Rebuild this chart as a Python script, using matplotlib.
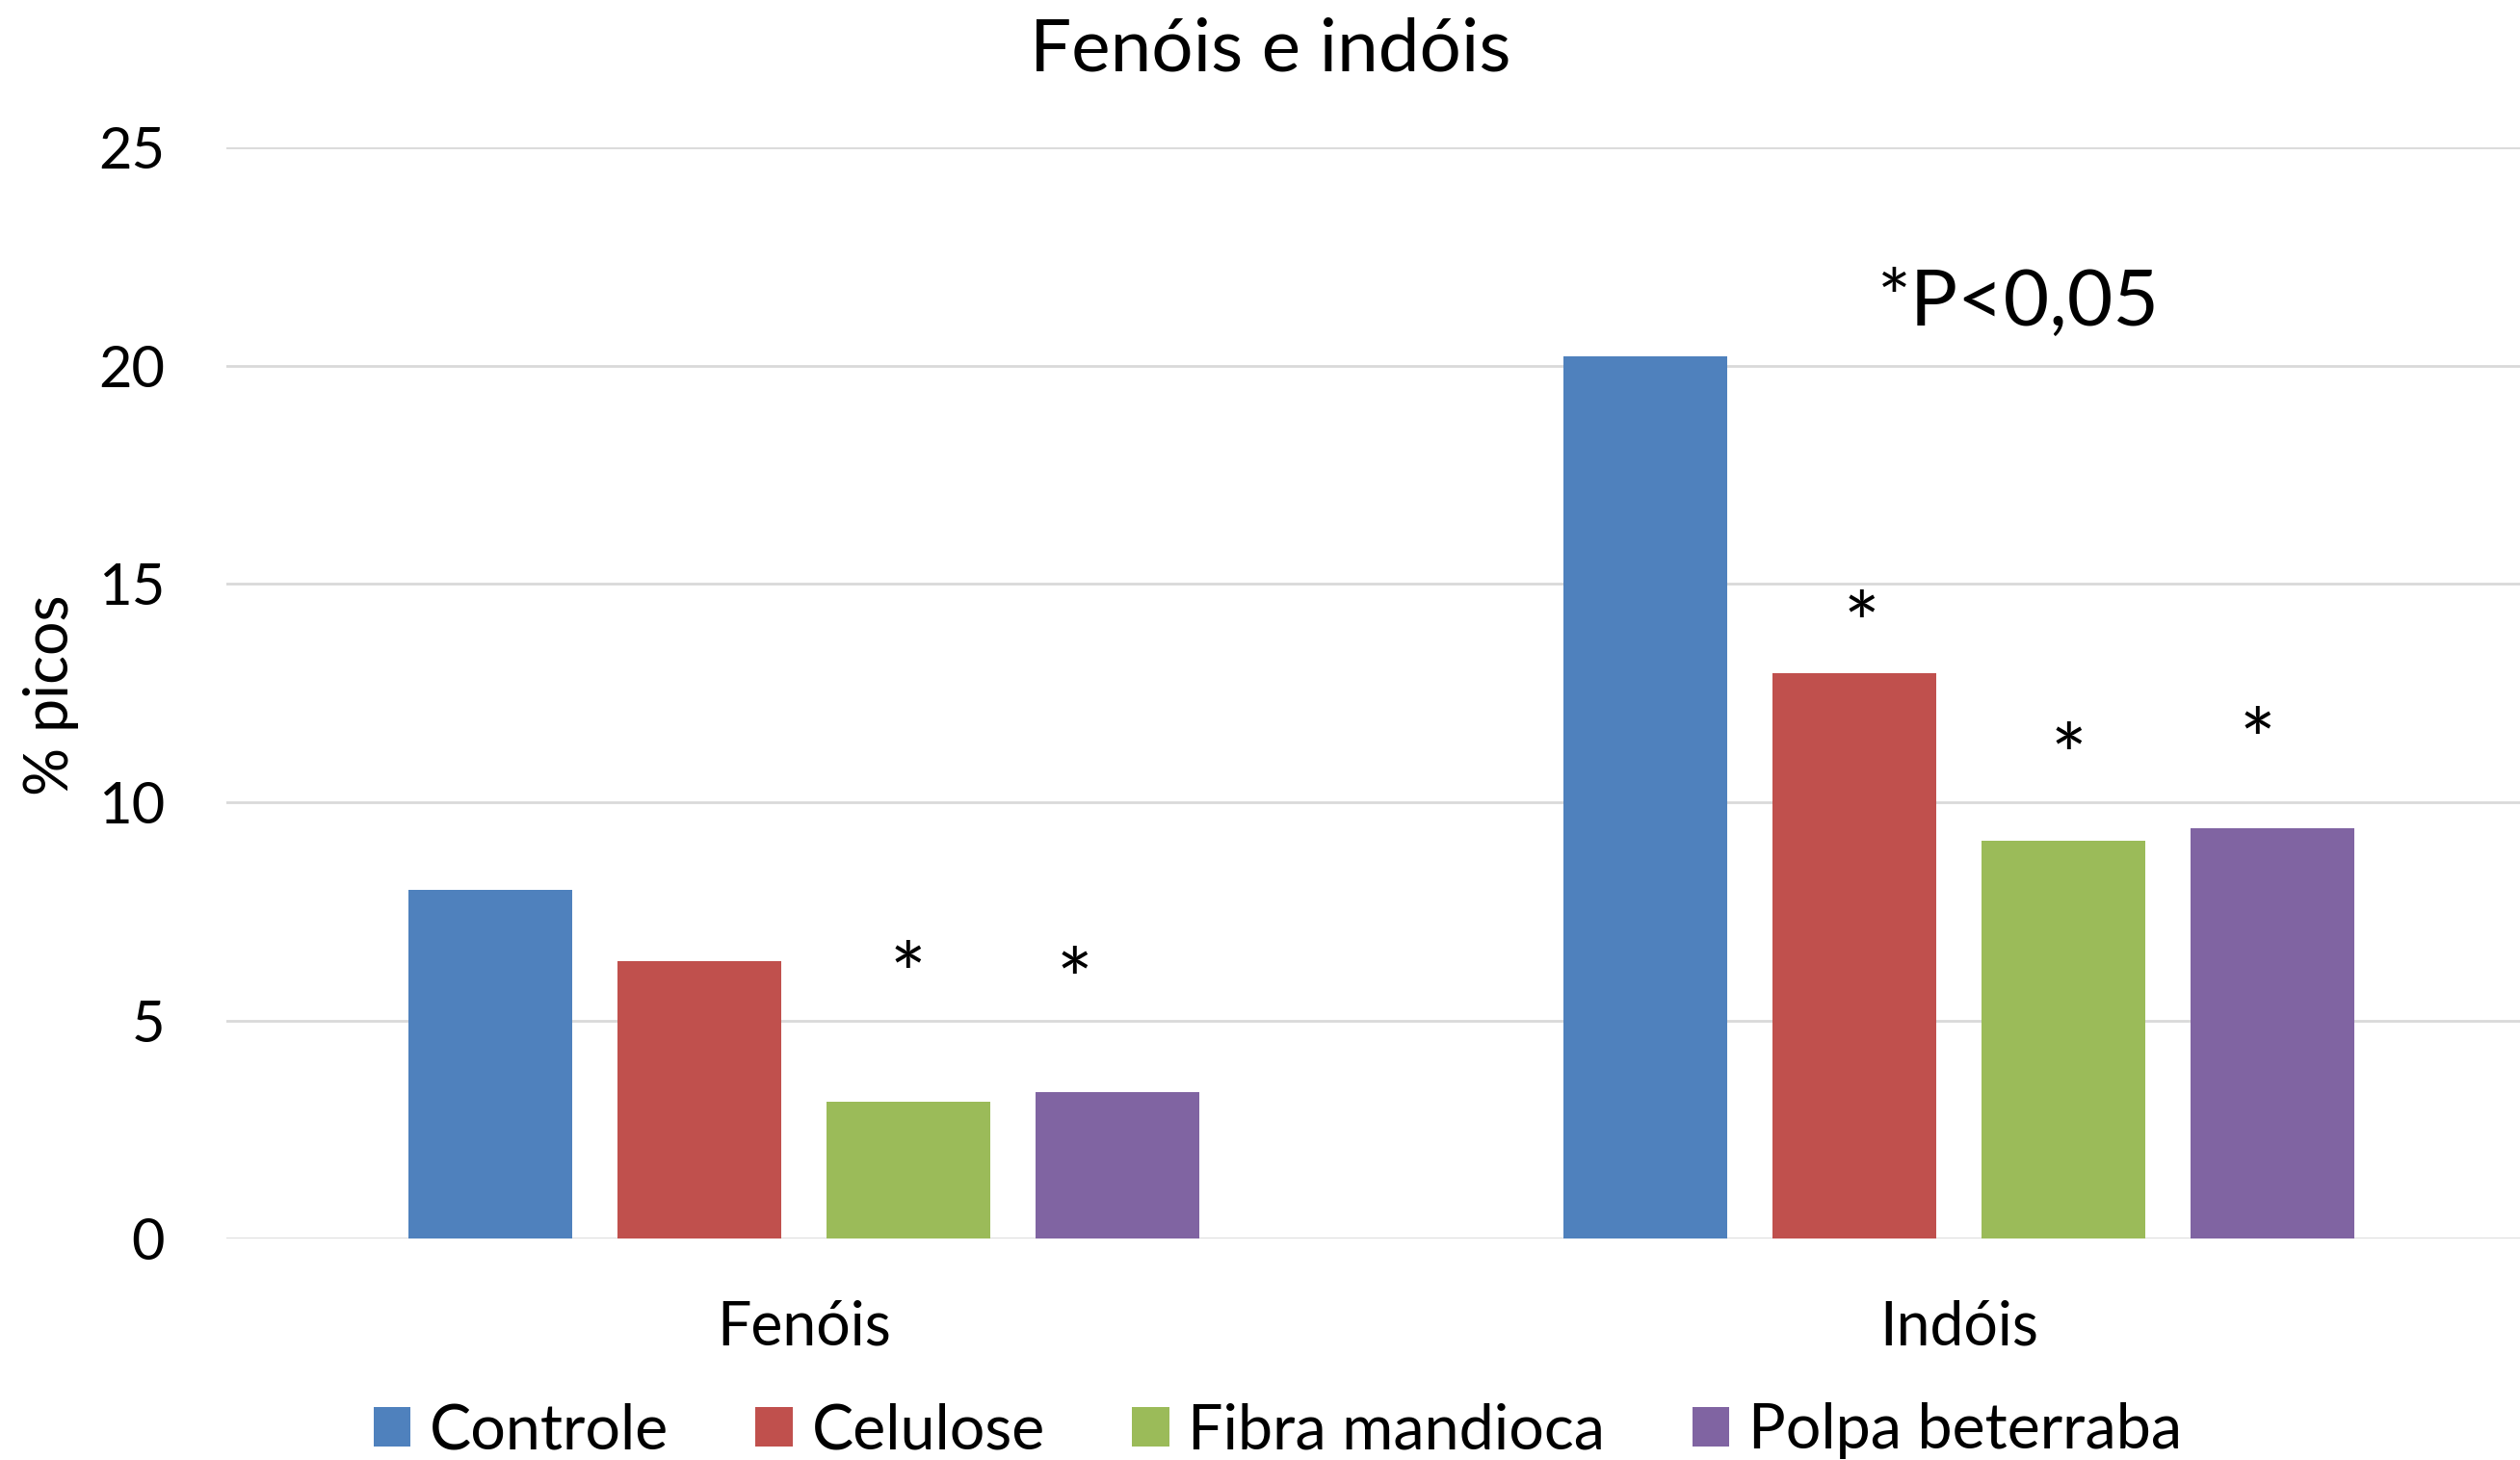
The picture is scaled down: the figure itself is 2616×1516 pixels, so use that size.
import numpy as np
import matplotlib.pyplot as plt

# data
groups = ['Fenóis', 'Indóis']
series = ['Controle', 'Celulose', 'Fibra mandioca', 'Polpa beterraba']
values = {
    'Controle': [7.98, 20.22],
    'Celulose': [6.35, 12.95],
    'Fibra mandioca': [3.13, 9.12],
    'Polpa beterraba': [3.36, 9.41],
}
colors = ['#4F81BD', '#C0504D', '#9BBB59', '#8064A2']

# significance stars: (group index, series index, height of star centre)
stars_group = [0, 0, 1, 1, 1]
stars_series = [2, 3, 1, 2, 3]
stars_y = [6.49, 6.36, 14.52, 11.50, 11.85]
yticks = [0, 5, 10, 15, 20, 25]


def main():
    plt.rcParams['font.family'] = ['Lato', 'DejaVu Sans']
    fig = plt.figure(figsize=(26.16, 15.16), dpi=100)
    ax = fig.add_axes([0.0898, 0.1517, 0.9102, 0.7471])

    x = np.arange(len(groups))
    width = 0.142
    step = 0.181
    offsets = (np.arange(len(series)) - 1.5) * step

    for i, s in enumerate(series):
        ax.bar(x + offsets[i], values[s], width, color=colors[i], label=s, zorder=3)

    # stars, baseline shifted so glyph centre sits at the value
    star_dx = {(0, 3): -0.037, (1, 1): 0.006, (1, 2): 0.005, (1, 3): -0.013}
    for g, s, yv in zip(stars_group, stars_series, stars_y):
        xs = x[g] + offsets[s] + star_dx.get((g, s), 0)
        ax.text(xs, yv - 1.15, '*', ha='center', va='baseline', fontsize=64)

    ax.text(1.052, 21.43, '*P<0,05', ha='center', va='center', fontsize=59)

    ax.set_xlim(-0.5, 1.486)
    ax.set_ylim(0, 25)
    ax.set_yticks(yticks)
    ax.set_xticks(x)
    ax.set_xticklabels(groups)
    ax.tick_params(axis='y', length=0, labelsize=43, pad=46)
    ax.tick_params(axis='x', length=0, labelsize=45, pad=46)
    ax.grid(axis='y', color='#d9d9d9', linewidth=2, zorder=0)
    for sp in ax.spines.values():
        sp.set_visible(False)

    fig.text(0.0203, 0.524, '% picos', rotation=90, ha='center', va='center', fontsize=45)
    fig.text(0.504, 0.966, 'Fenóis e indóis', ha='center', va='center', fontsize=55)

    fig.legend(loc='center', bbox_to_anchor=(0.507, 0.02), ncol=4, frameon=False,
               fontsize=46.5, handlelength=0.6, handleheight=0.6, handletextpad=0.3,
               columnspacing=1.4)

    fig.savefig('out.png', dpi=100)


if __name__ == '__main__':
    main()
